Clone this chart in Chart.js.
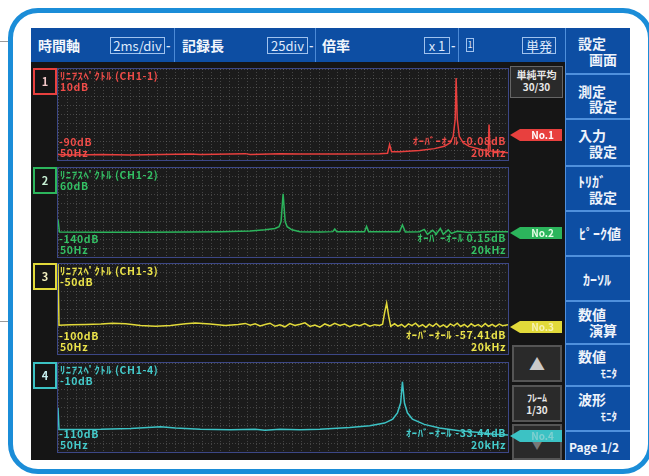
<!DOCTYPE html>
<html lang="ja">
<head>
<meta charset="utf-8">
<script src="https://cdn.jsdelivr.net/npm/chart.js@4.4.1/dist/chart.umd.min.js"></script>
<style>
  body { margin: 0; width: 649px; height: 476px; background: #fff; position: relative; overflow: hidden;
         font-family: "Noto Sans CJK JP", sans-serif; font-weight: bold; }
  .abs { position: absolute; }
  .frame { left: 8px; top: 8px; width: 645px; height: 466px; border: 5px solid #1b8dd8; border-radius: 30px; box-sizing: border-box; }
  .screen { left: 31px; top: 28px; width: 599px; height: 432px; background: #151515; }
  .topbar { left: 31px; top: 28px; width: 534px; height: 34px; background: #0d4ea3; }
  .tb { position: absolute; top: 0; height: 34px; line-height: 34px; color: #f2f6fc; font-size: 14px; white-space: nowrap; }
  .box { position: absolute; top: 9px; height: 17px; line-height: 16px; border: 1px solid #9fc2ee; box-sizing: border-box;
         color: #dfe9fb; font-size: 13px; font-weight: normal; text-align: center; }
  .dash { position: absolute; top: 0; line-height: 34px; color: #dfe9fb; font-size: 12px; }
  .div { position: absolute; top: 0; width: 1px; height: 34px; background: #4c8ad6; }
  .btn { position: absolute; left: 565px; width: 65px; background: #0d4ea3; border-top: 2px solid #4f90dc; border-left: 1px solid #4f90dc;
         box-sizing: border-box; color: #eef3fb; font-size: 14px; line-height: 15px; }
  .btn .l1 { position: absolute; left: 12px; }
  .btn .l2 { position: absolute; right: 13px; }
  .panel { position: absolute; left: 57px; width: 452px; border: 1px solid #3c4786; box-sizing: border-box; background: #1b1b1b; }
  .panel canvas { position: absolute; left: 0; top: 0; }
  .lbl { position: absolute; font-size: 10.5px; line-height: 11px; white-space: nowrap; letter-spacing: 0.6px; }
  .chbox { position: absolute; left: 33px; width: 24px; height: 27px; border: 2px solid; box-sizing: border-box;
           text-align: center; line-height: 23px; font-size: 11px; }
  .mark { position: absolute; left: 510px; width: 52px; height: 12px; line-height: 12px; font-size: 10px; text-align: right;
          padding-right: 8px; box-sizing: border-box; clip-path: polygon(0 50%, 10px 0, 100% 0, 100% 100%, 10px 100%); }
  .gbtn { position: absolute; left: 512px; width: 50px; border: 2px solid #555; background: #2a2a2a; box-sizing: border-box;
          color: #e8e8e8; text-align: center; font-size: 10px; line-height: 12px; }
  .side { position: absolute; left: 0; height: 1px; background: #9a9a9a; }
</style>
</head>
<body>
<div class="abs side" style="top:41px;width:9px"></div>
<div class="abs side" style="top:321px;width:9px"></div>
<div class="abs frame"></div>
<div class="abs screen"></div>

<div class="abs topbar">
  <div class="tb" style="left:7px">時間軸</div>
  <div class="box" style="left:79px;width:55px">2ms/div</div><div class="dash" style="left:135px">-</div>
  <div class="div" style="left:143px"></div>
  <div class="tb" style="left:151px">記録長</div>
  <div class="box" style="left:236px;width:41px">25div</div><div class="dash" style="left:278px">-</div>
  <div class="div" style="left:284px"></div>
  <div class="tb" style="left:291px">倍率</div>
  <div class="box" style="left:393px;width:26px">x 1</div><div class="dash" style="left:420px">-</div>
  <div class="div" style="left:427px"></div>
  <div class="box" style="left:435px;width:8px;top:10px;height:14px;font-size:9px;line-height:12px">1</div>
  <div class="box" style="left:491px;width:34px">単発</div>
</div>

<div class="btn" style="top:28px;height:45px;border-top:none"><span class="l1" style="top:8px">設定</span><span class="l2" style="top:24px">画面</span></div>
<div class="btn" style="top:73px;height:45px"><span class="l1" style="top:9px">測定</span><span class="l2" style="top:24px">設定</span></div>
<div class="btn" style="top:118px;height:47px"><span class="l1" style="top:8px">入力</span><span class="l2" style="top:24px">設定</span></div>
<div class="btn" style="top:165px;height:45px"><span class="l1" style="top:7px">ﾄﾘｶﾞ</span><span class="l2" style="top:23px">設定</span></div>
<div class="btn" style="top:210px;height:45px"><span class="l1" style="top:14px;left:13px">ﾋﾟｰｸ値</span></div>
<div class="btn" style="top:255px;height:45px"><span class="l1" style="top:15px;left:17px">ｶｰｿﾙ</span></div>
<div class="btn" style="top:300px;height:43px"><span class="l1" style="top:5px">数値</span><span class="l2" style="top:21px">演算</span></div>
<div class="btn" style="top:343px;height:42px"><span class="l1" style="top:4px">数値</span><span class="l2" style="top:21px;font-size:11px">ﾓﾆﾀ</span></div>
<div class="btn" style="top:385px;height:45px"><span class="l1" style="top:5px">波形</span><span class="l2" style="top:22px;font-size:11px">ﾓﾆﾀ</span></div>
<div class="btn" style="top:430px;height:30px"><span class="l1" style="top:7px;left:3px;font-size:12px">Page 1/2</span></div>

<div class="gbtn" style="left:510px;top:66px;width:53px;height:32px;border:1px solid #666;padding-top:2px">単純平均<br>30/30</div>
<div class="gbtn" style="top:345px;height:37px;font-size:16px;line-height:33px;color:#c9c9c9">▲</div>
<div class="gbtn" style="top:385px;height:37px;padding-top:5px;font-size:10px">ﾌﾚｰﾑ<br>1/30</div>
<div class="gbtn" style="top:424px;height:36px;font-size:16px;line-height:33px;color:#777">▼</div>

<div id="panels"></div>

<script>
// frequency axis of the analyzer, Hz
const FREQ_MIN = 50
const FREQ_MAX = 20000

// CH1-1 (red)
const ch1Freq = [50, 845, 1950, 3270, 4600, 5920, 6360, 8350, 8570, 9890, 10780, 12540, 14310, 14660, 14750, 14840,
  15190, 16070, 16740, 17180, 17440, 17570, 17660, 17700, 17750, 17840, 18010, 18280, 18720, 19120, 19160, 19210, 19600, 20000]
const ch1Db = [-84, -84.5, -84, -84.5, -84, -83.5, -84, -83, -84, -83, -83.5, -83.5, -83, -82.5, -73, -81,
  -81, -79.5, -77.5, -75, -71, -64, -45, 0, -45, -64, -71, -75, -78, -80, -51, -80, -81, -82]

// CH1-2 (green)
const ch2Freq = [50, 115, 1950, 4155, 5700, 7245, 8570, 9230, 9670, 9850, 9940, 10030, 10120, 10210, 10420, 10780, 11660,
  12230, 12320, 12410, 13640, 13730, 13820, 15190, 15320, 15450, 16070, 16290, 16430, 16650, 16820, 17000, 17130, 17350,
  17490, 17750, 18280, 19160, 20000]
const ch2Db = [-56, -84, -84.5, -84.5, -84, -83, -81.5, -79, -76, -72, -60, 2, -60, -72, -79, -83, -84,
  -83, -77, -83, -83.5, -71, -83, -83.5, -68, -84, -83, -78, -89, -80, -88, -76, -89, -79,
  -87, -82, -85, -83.5, -83]

// CH1-3 (yellow)
const ch3Freq = [50, 95, 620, 1290, 1950, 2480, 3050, 3710, 4380, 5040, 5700, 6140, 6800, 7470, 8040, 8350, 8570,
  8790, 9010, 9230, 9450, 9670, 9890, 10110, 10330, 10550, 10780, 11000, 11220, 11440, 11660, 11880, 12100, 12320,
  12540, 12760, 12980, 13200, 13430, 13650, 13870, 14090, 14310, 14440, 14530, 14620, 14710, 14800,
  14970, 15120, 15280, 15430, 15590, 15740, 15900, 16050, 16210, 16360, 16510, 16670, 16820, 16980, 17130, 17290,
  17440, 17600, 17750, 17900, 18060, 18210, 18370, 18520, 18680, 18830, 18990, 19140, 19300, 19450, 19610, 19760, 20000]
const ch3Db = [-50, -84, -83.8, -83.6, -83.3, -82.9, -83.2, -84.1, -84.6, -84.2, -83.2, -82.8, -83.4, -84.2, -83.6, -83, -84,
  -83.2, -84.4, -83.6, -82.9, -84.6, -83.8, -84.9, -83.1, -84.2, -83.5, -82.7, -84.7, -83.9, -85.1, -83.3, -84.4, -82.9,
  -84.1, -83.4, -84.8, -83.6, -84.3, -83.1, -84.6, -83.7, -84.2, -83.5, -77, -71.7, -79, -84.6,
  -83.2, -84.5, -83.6, -85, -83.3, -84.2, -82.9, -84.8, -83.7, -85.2, -83.4, -84.6, -83, -84.9, -83.8, -85.1,
  -83.3, -84.4, -82.9, -84.7, -83.6, -85, -83.2, -84.5, -83.7, -84.9, -83.1, -84.6, -83.5, -84.8, -83.4, -84.3, -83.8]

// CH1-4 (cyan)
const ch4Freq = [50, 95, 1950, 3270, 4600, 5260, 6360, 7690, 8790, 9230, 9890, 10780, 11660, 12980, 13870, 14530, 14890,
  15100, 15240, 15320, 15410, 15540, 15760, 16290, 16960, 17840, 18720, 19390, 20000]
const ch4Db = [-60.5, -84.7, -84.5, -83.5, -81.5, -83, -84.5, -85, -84.5, -85.5, -84.5, -85, -84.5, -82.5, -80.5, -77.5, -73,
  -66, -55, -31, -55, -66, -73, -79, -83, -86, -88, -90, -91]

// per panel texts and scale ranges
const panelNumbers = ["1", "2", "3", "4"]
const panelTitles = ["ﾘﾆｱｽﾍﾟｸﾄﾙ (CH1-1)", "ﾘﾆｱｽﾍﾟｸﾄﾙ (CH1-2)", "ﾘﾆｱｽﾍﾟｸﾄﾙ (CH1-3)", "ﾘﾆｱｽﾍﾟｸﾄﾙ (CH1-4)"]
const topLabels = ["10dB", "60dB", "-50dB", "-10dB"]
const bottomLabels = ["-90dB", "-140dB", "-100dB", "-110dB"]
const overallLabels = ["ｵｰﾊﾞｰｵｰﾙ -0.08dB", "ｵｰﾊﾞｰｵｰﾙ 0.15dB", "ｵｰﾊﾞｰｵｰﾙ -57.41dB", "ｵｰﾊﾞｰｵｰﾙ -33.44dB"]
const yMax = [10, 60, -50, -10]
const yMin = [-90, -140, -100, -110]
const startLabel = "50Hz"
const endLabel = "20kHz"
const markerLabels = ["No.1", "No.2", "No.3", "No.4"]

const series = [[ch1Freq, ch1Db], [ch2Freq, ch2Db], [ch3Freq, ch3Db], [ch4Freq, ch4Db]]

// layout / style
const colors = ["#e8403e", "#2cb55c", "#e2da3a", "#3cc2c4"]
const textColors = ["#f04c48", "#33c064", "#ece44a", "#44cccc"]
const numColors = ["#f4c8c8", "#c8f0d4", "#f4f0c0", "#c8f0f0"]
const markerText = ["#fff", "#e8ffe8", "#f6f2b4", "#7fd0d0"]
const panelTops = [68, 167, 263, 362]
const panelHeights = [93, 91, 92, 91]
const markerTops = [129, 227, 321, 430]

const holder = document.getElementById("panels")

series.forEach(([freq, db], i) => {
  const h = panelHeights[i]
  const panel = document.createElement("div")
  panel.className = "panel"
  panel.style.top = panelTops[i] + "px"
  panel.style.height = h + "px"
  holder.appendChild(panel)

  const canvas = document.createElement("canvas")
  canvas.width = 450
  canvas.height = h - 2
  panel.appendChild(canvas)

  const num = document.createElement("div")
  num.className = "chbox"
  num.style.top = panelTops[i] + "px"
  num.style.borderColor = colors[i]
  num.style.color = numColors[i]
  num.textContent = panelNumbers[i]
  holder.appendChild(num)

  const addLabel = (text, css) => {
    const el = document.createElement("div")
    el.className = "lbl"
    el.style.color = textColors[i]
    Object.assign(el.style, css)
    el.textContent = text
    panel.appendChild(el)
  }
  addLabel(panelTitles[i], { left: "2px", top: "1px" })
  addLabel(topLabels[i], { left: "2px", top: "12px" })
  addLabel(bottomLabels[i], { left: "1px", bottom: "13px" })
  addLabel(startLabel, { left: "2px", bottom: "2px" })
  addLabel(overallLabels[i], { right: "2px", bottom: "14px" })
  addLabel(endLabel, { right: "2px", bottom: "2px" })

  const mark = document.createElement("div")
  mark.className = "mark"
  mark.style.top = markerTops[i] + "px"
  mark.style.background = colors[i]
  mark.style.color = markerText[i]
  mark.textContent = markerLabels[i]
  holder.appendChild(mark)

  const lo = yMin[i], hi = yMax[i]
  new Chart(canvas, {
    type: "line",
    data: {
      datasets: [{
        data: freq.map((f, k) => ({ x: f, y: db[k] })),
        borderColor: colors[i],
        borderWidth: 1.5,
        pointRadius: 0,
        tension: 0
      }]
    },
    options: {
      responsive: false,
      animation: false,
      devicePixelRatio: 1,
      layout: { padding: 0 },
      scales: {
        x: {
          type: "linear",
          min: FREQ_MIN,
          max: FREQ_MAX,
          afterBuildTicks: axis => {
            const ticks = []
            for (let k = 0; k <= 50; k++) ticks.push({ value: FREQ_MIN + k * (FREQ_MAX - FREQ_MIN) / 50 })
            axis.ticks = ticks
          },
          ticks: { display: false },
          grid: { color: "rgba(120,120,120,0.45)", drawTicks: false },
          border: { display: false, dash: [1, 2] }
        },
        y: {
          min: lo,
          max: hi,
          afterBuildTicks: axis => {
            const ticks = []
            for (let k = 0; k <= 10; k++) ticks.push({ value: lo + k * (hi - lo) / 10 })
            axis.ticks = ticks
          },
          ticks: { display: false },
          grid: { color: "rgba(120,120,120,0.45)", drawTicks: false },
          border: { display: false, dash: [1, 2] }
        }
      },
      plugins: {
        legend: { display: false },
        tooltip: { enabled: false }
      }
    }
  })
})
</script>
</body>
</html>
